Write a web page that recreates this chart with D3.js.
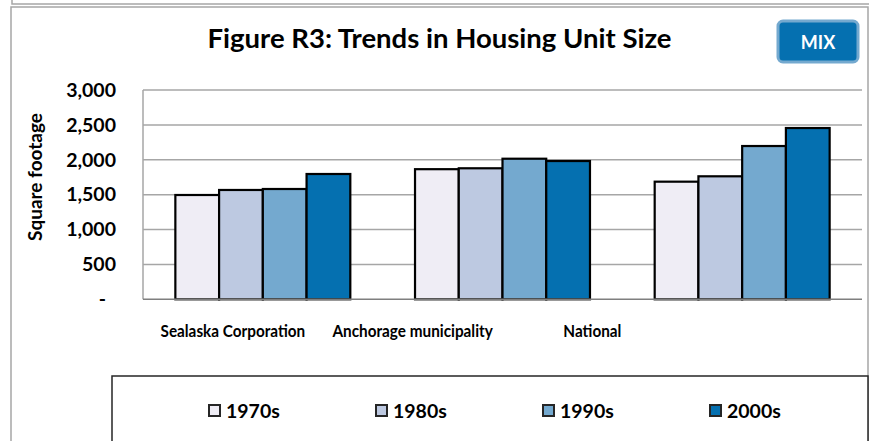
<!DOCTYPE html>
<html>
<head>
<meta charset="utf-8">
<script src="https://cdn.jsdelivr.net/npm/d3@7"></script>
<style>
  html, body { margin: 0; padding: 0; background: #fff; }
  svg { display: block; font-family: Lato, "Open Sans", "Liberation Sans", sans-serif; }
</style>
</head>
<body>
<svg id="chart" width="869" height="441"></svg>
<script>
// ---- data ----
const categories = ["Sealaska Corporation", "Anchorage municipality", "National"];
const seriesNames = ["1970s", "1980s", "1990s", "2000s"];
const values1970s = [1495, 1865, 1686];
const values1980s = [1567, 1878, 1763];
const values1990s = [1581, 2015, 2197];
const values2000s = [1796, 1982, 2455];
const yTicks = [0, 500, 1000, 1500, 2000, 2500, 3000];
const colors = ["#efedf5", "#bdc9e1", "#74a9cf", "#0570b0"];
const titleText = "Figure R3: Trends in Housing Unit Size";
const yAxisTitle = "Square footage";
const badgeText = "MIX";

const seriesValues = [values1970s, values1980s, values1990s, values2000s];
const table = categories.map((c, i) => ({
  category: c,
  vals: seriesNames.map((s, j) => ({ series: s, value: seriesValues[j][i] }))
}));

const svg = d3.select("#chart");

// frame lines
svg.append("path").attr("d", "M12,0 V4 H869").attr("fill", "none").attr("stroke", "#a6a6a6").attr("stroke-width", 1.5);
svg.append("rect").attr("x", 11).attr("y", 7).attr("width", 857).attr("height", 450)
  .attr("fill", "#fff").attr("stroke", "#a6a6a6").attr("stroke-width", 1.5);

const plot = { left: 143, right: 862, top: 90, bottom: 299.3 };

const y = d3.scaleLinear().domain([0, 3000]).range([plot.bottom, plot.top]);
const x0 = d3.scaleBand().domain(categories).range([plot.left, plot.right])
  .paddingInner(0.27).paddingOuter(0.135);
const x1 = d3.scaleBand().domain(seriesNames).range([0, x0.bandwidth()]).padding(0);
const color = d3.scaleOrdinal().domain(seriesNames).range(colors);

// gridlines
svg.append("g").selectAll("line").data(yTicks.filter(d => d > 0)).join("line")
  .attr("x1", plot.left).attr("x2", plot.right)
  .attr("y1", d => y(d)).attr("y2", d => y(d))
  .attr("stroke", "#a6a6a6").attr("stroke-width", 1.5);
// left plot border
svg.append("line").attr("x1", plot.left).attr("x2", plot.left)
  .attr("y1", plot.top).attr("y2", plot.bottom).attr("stroke", "#a6a6a6").attr("stroke-width", 1.5);

// y axis labels
const yAxis = d3.axisLeft(y).tickValues(yTicks).tickSize(0).tickPadding(0)
  .tickFormat(d => d === 0 ? "-" : d3.format(",")(d));
const yg = svg.append("g").attr("transform", `translate(116,0)`).call(yAxis);
yg.select(".domain").remove();
yg.selectAll("text").attr("font-size", 19.5).attr("font-weight", "bold").attr("fill", "#000")
  .attr("font-family", "Lato, sans-serif")
  .attr("dx", d => d === 0 ? -10 : 0);

// bars
const groups = svg.append("g").selectAll("g").data(table).join("g")
  .attr("transform", d => `translate(${x0(d.category)},0)`);
groups.selectAll("rect").data(d => d.vals).join("rect")
  .attr("x", d => x1(d.series))
  .attr("y", d => y(d.value))
  .attr("width", x1.bandwidth())
  .attr("height", d => y(0) - y(d.value))
  .attr("fill", d => color(d.series))
  .attr("stroke", "#000").attr("stroke-width", 2.2);

// x axis line
svg.append("line").attr("x1", plot.left).attr("x2", plot.right)
  .attr("y1", plot.bottom).attr("y2", plot.bottom).attr("stroke", "#7f7f7f").attr("stroke-width", 1.5);

// category labels (as positioned in the reference)
const xLab = d3.scaleBand().domain(categories)
  .range([plot.left, plot.left + (plot.right - plot.left) * 0.75]);
const xAxis = d3.axisBottom(xLab).tickSize(0).tickPadding(0);
const xg = svg.append("g").attr("transform", `translate(0,${plot.bottom + 26})`).call(xAxis);
xg.select(".domain").remove();
xg.selectAll("text").attr("font-size", 17).attr("font-weight", "bold").attr("fill", "#000")
  .attr("font-family", "Lato, sans-serif")
  .each(function () {
    const w = this.getComputedTextLength();
    d3.select(this).attr("textLength", w * 0.9).attr("lengthAdjust", "spacingAndGlyphs");
  });

// y axis title
svg.append("text")
  .attr("transform", `translate(42,177) rotate(-90)`)
  .attr("text-anchor", "middle")
  .attr("font-size", 19).attr("font-weight", "bold").text(yAxisTitle);

// title
svg.append("text").attr("x", 439.5).attr("y", 48).attr("text-anchor", "middle")
  .attr("font-size", 27.5).attr("font-weight", "bold").text(titleText);

// badge
const badge = svg.append("g");
badge.append("rect").attr("x", 778).attr("y", 21).attr("width", 80).attr("height", 41).attr("rx", 5)
  .attr("fill", "#0570b0").attr("stroke", "#74a9cf").attr("stroke-width", 3);
badge.append("text").attr("x", 818).attr("y", 49).attr("text-anchor", "middle")
  .attr("fill", "#fff").attr("font-size", 18).attr("font-weight", "bold").text(badgeText);

// legend
svg.append("rect").attr("x", 112).attr("y", 376).attr("width", 756).attr("height", 80)
  .attr("fill", "#fff").attr("stroke", "#262626").attr("stroke-width", 1.5);
const lx = d3.scalePoint().domain(seriesNames).range([208, 709]);
const li = svg.append("g").selectAll("g").data(seriesNames).join("g")
  .attr("transform", d => `translate(${lx(d)},0)`);
li.append("rect").attr("x", 1).attr("y", 405).attr("width", 11).attr("height", 11)
  .attr("fill", d => color(d)).attr("stroke", "#262626").attr("stroke-width", 2);
li.append("text").attr("x", 18).attr("y", 418).attr("font-size", 19.5).attr("font-weight", "bold").text(d => d);
</script>
</body>
</html>
